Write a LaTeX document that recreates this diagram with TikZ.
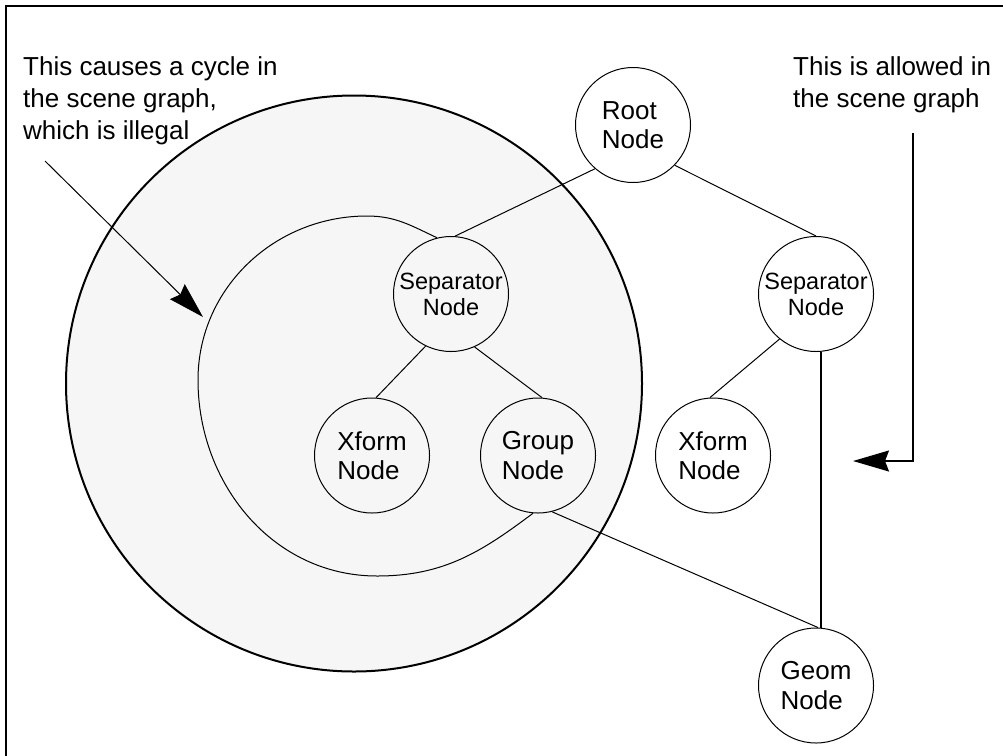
\documentclass[tikz,border=0pt]{standalone}
\usepackage{fontspec}
\setmainfont{Liberation Sans}
\usetikzlibrary{arrows.meta}
\definecolor{shade}{RGB}{246,246,246}
\begin{document}
\begin{tikzpicture}[x=1pt,y=-1pt,
  gnode/.style={draw, circle, line width=1pt, minimum size=115pt, inner sep=0pt,
    align=left, font=\fontsize{26}{29.5}\selectfont},
  sepnode/.style={gnode, align=center, font=\fontsize{23.5}{26}\selectfont},
  link/.style={line width=1pt},
  callout/.style={line width=1.4pt, -{Stealth[length=36pt,width=21pt,inset=4pt]}},
  note/.style={anchor=base west, align=left, inner sep=0pt,
    font=\fontsize{26}{32}\selectfont}]
\useasboundingbox (0,0) rectangle (1003,755);
% open frame
\draw[line width=2pt] (1010,6) -- (6,6) -- (6,760);
% shaded region holding the cycle
\draw[line width=2pt, fill=shade] (354,383.5) circle[radius=288pt];

% graph nodes
\node[gnode]   (root) at (633,125)   {Root\\Node};
\node[sepnode] (lsep) at (451,294)   {Separator\\Node};
\node[sepnode] (rsep) at (816,294)   {Separator\\Node};
\node[gnode]   (lxf)  at (372,455.5) {Xform\\Node};
\node[gnode]   (grp)  at (538,455.5) {Group\\Node};
\node[gnode]   (rxf)  at (713,455.5) {Xform\\Node};
\node[gnode]   (geom) at (816,685.5) {Geom\\Node};

% edges
\draw[link] (root.229) -- (lsep.86);
\draw[link] (root.316) -- (rsep.90);
\draw[link] (lsep.244) -- (lxf.86);
\draw[link] (lsep.294) -- (grp.86);
\draw[link] (rsep.231) -- (rxf.93);
\draw[line width=1.4pt] (rsep.275) -- (geom.85);
\draw[link] (grp.284) -- (geom.88);

% back edge closing the cycle
\draw[link] (grp.265) to[out=217,in=0] (377,576)
  to[out=180,in=270] (198,380)
  to[out=90,in=180] (367,216)
  to[out=0,in=155] (lsep.104);

% annotations (anchored on the baseline of their last line)
\node[note] (lnote) at (23,139) {This causes a cycle in\\the scene graph,\\which is illegal};
\node[note] (rnote) at (793,107) {This is allowed in\\the scene graph};

\coordinate (a1s) at (45,161);
\coordinate (a1e) at (203,317);
\draw[callout, line width=1pt] (a1s) -- (a1e);

\coordinate (a2s) at (913,133);
\coordinate (a2e) at (853,461);
\draw[callout] (a2s) |- (a2e);
\end{tikzpicture}
\end{document}
